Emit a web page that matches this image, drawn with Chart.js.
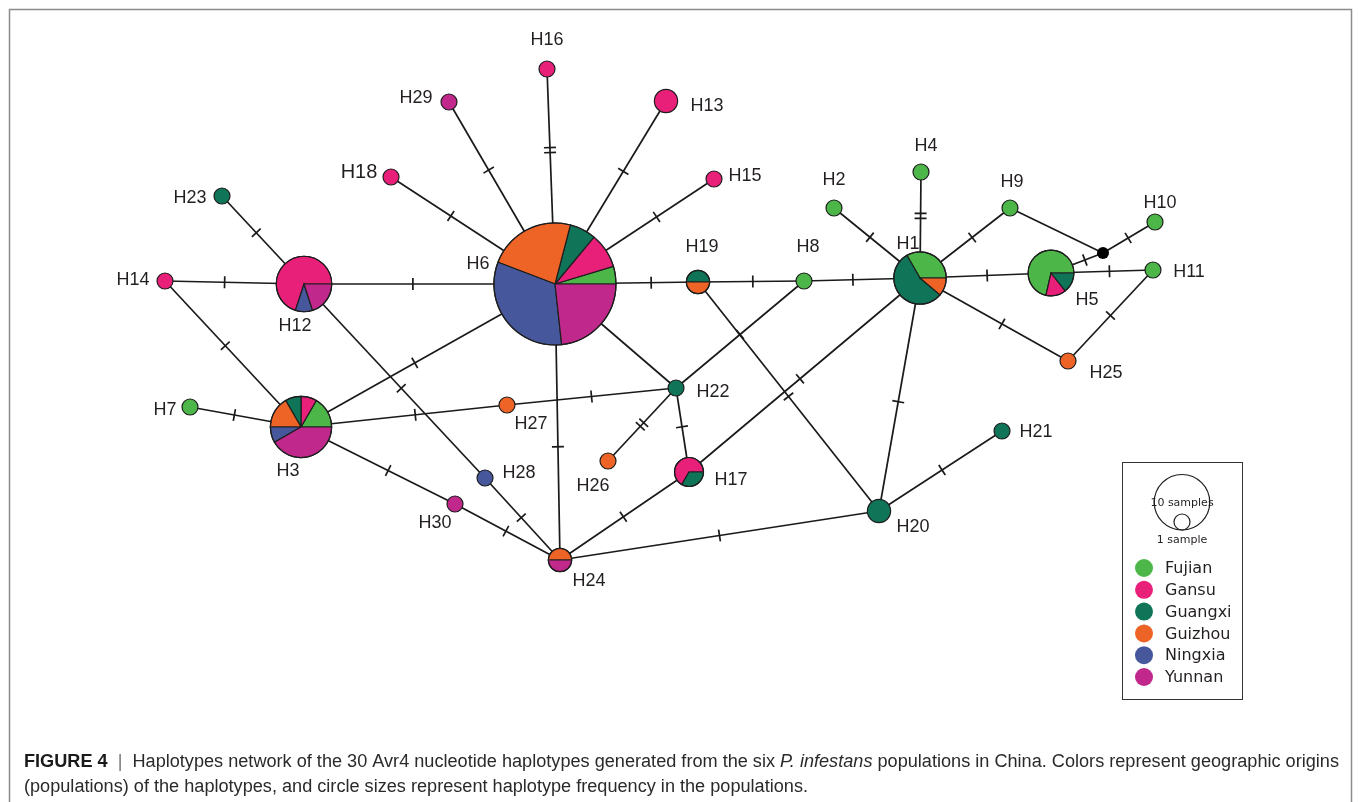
<!DOCTYPE html>
<html>
<head>
<meta charset="utf-8">
<script src="https://cdn.jsdelivr.net/npm/chart.js@4.4.1/dist/chart.umd.min.js"></script>
<style>
  html, body { margin: 0; padding: 0; background: #fff; }
  canvas { display: block; }
</style>
</head>
<body>
<canvas id="network" width="1358" height="802"></canvas>
<script>
const populations = ['Fujian', 'Gansu', 'Guangxi', 'Guizhou', 'Ningxia', 'Yunnan'];
const popColors = ['#4cb748', '#e8207a', '#107458', '#ee6426', '#46579c', '#c0288b'];

// haplotype nodes (mv = median vector)
const haplotypes = ['H1','H2','H3','H4','H5','H6','H7','H8','H9','H10',
                    'H11','H12','H13','H14','H15','H16','H17','H18','H19','H20',
                    'H21','H22','H23','H24','H25','H26','H27','H28','H29','H30','mv'];
const hapX = [920, 834, 301, 921, 1051, 555, 190, 804, 1010, 1155,
              1153, 304, 666, 165, 714, 547, 689, 391, 698, 879,
              1002, 676, 222, 560, 1068, 608, 507, 485, 449, 455, 1103];
const hapY = [278, 208, 427, 172, 273, 284, 407, 281, 208, 222,
              270, 284, 101, 281, 179, 69, 472, 177, 282, 511,
              431, 388, 196, 560, 361, 461, 405, 478, 102, 504, 253];

// samples per population, same order as populations
const hapCounts = [
  [3,0,5,1,0,0], [1,0,0,0,0,0], [2,1,1,2,1,5], [1,0,0,0,0,0], [5,1,1,0,0,0],
  [2,4,3,10,14,10], [1,0,0,0,0,0], [1,0,0,0,0,0], [1,0,0,0,0,0], [1,0,0,0,0,0],
  [1,0,0,0,0,0], [0,7,0,0,1,2], [0,2,0,0,0,0], [0,1,0,0,0,0], [0,1,0,0,0,0],
  [0,1,0,0,0,0], [0,2,1,0,0,0], [0,1,0,0,0,0], [0,0,1,1,0,0], [0,0,2,0,0,0],
  [0,0,1,0,0,0], [0,0,1,0,0,0], [0,0,1,0,0,0], [0,0,0,1,0,1], [0,0,0,1,0,0],
  [0,0,0,1,0,0], [0,0,0,1,0,0], [0,0,0,0,1,0], [0,0,0,0,0,1], [0,0,0,0,0,1],
  [0,0,0,0,0,0]
];

// links: [from, to, mutation steps]
const edges = [
  ['H6','H16',2], ['H6','H29',1], ['H6','H13',1], ['H6','H15',1], ['H6','H18',1],
  ['H6','H19',1], ['H6','H12',1], ['H6','H3',1], ['H6','H24',1], ['H6','H22',0],
  ['H12','H23',1], ['H12','H14',1], ['H12','H28',1], ['H14','H3',1], ['H3','H7',1],
  ['H3','H27',1], ['H27','H22',1], ['H3','H30',1], ['H30','H24',1], ['H28','H24',1],
  ['H22','H26',2], ['H22','H17',1], ['H22','H8',1], ['H17','H24',1], ['H17','H1',1],
  ['H24','H20',1], ['H19','H20',1], ['H19','H8',1], ['H8','H1',1], ['H1','H2',1],
  ['H1','H4',2], ['H1','H9',1], ['H1','H5',1], ['H1','H25',1], ['H1','H20',1],
  ['H20','H21',1], ['H5','mv',1], ['H9','mv',0], ['mv','H10',1], ['H5','H11',1],
  ['H11','H25',1]
];

// label placement relative to node centre
const labelOffset = [
  [-12,-34], [0,-28], [-13,44], [5,-26], [36,27], [-77,-20], [-25,3], [4,-34], [2,-26], [5,-19],
  [36,2], [-9,42], [41,5], [-32,-1], [31,-3], [0,-29], [42,8], [-32,-5], [4,-35], [34,16],
  [34,1], [37,4], [-32,2], [29,21], [38,12], [-15,25], [24,19], [34,-5], [-33,-4], [-20,19], [0,0]
];

const idx = name => haplotypes.indexOf(name);
const sampleTotal = i => hapCounts[i].reduce((a, b) => a + b, 0);
const nodeRadius = n => n === 0 ? 6 : 8 * Math.pow(n, 0.54);

const edgeSets = edges.map(e => ({
  type: 'line',
  data: [{x: hapX[idx(e[0])], y: hapY[idx(e[0])]}, {x: hapX[idx(e[1])], y: hapY[idx(e[1])]}],
  borderColor: '#1a1a1a',
  borderWidth: 1.7,
  pointRadius: 0,
  fill: false
}));

function drawPie(ctx, cx, cy, r, counts) {
  const total = counts.reduce((a, b) => a + b, 0);
  ctx.strokeStyle = '#1e1e1e';
  ctx.lineWidth = 1.2;
  if (total === 0) {
    ctx.beginPath(); ctx.arc(cx, cy, r, 0, 2 * Math.PI);
    ctx.fillStyle = '#000'; ctx.fill();
    return;
  }
  let a0 = 0;
  counts.forEach((c, i) => {
    if (!c) return;
    const a1 = a0 - c / total * 2 * Math.PI;
    ctx.beginPath();
    ctx.moveTo(cx, cy);
    ctx.arc(cx, cy, r, a0, a1, true);
    ctx.closePath();
    ctx.fillStyle = popColors[i];
    ctx.fill();
    if (c < total) ctx.stroke();
    a0 = a1;
  });
  ctx.beginPath(); ctx.arc(cx, cy, r, 0, 2 * Math.PI); ctx.stroke();
}

const networkPlugin = {
  id: 'network',
  afterDatasetsDraw(chart) {
    const ctx = chart.ctx;
    const xs = chart.scales.x, ys = chart.scales.y;
    const px = i => xs.getPixelForValue(hapX[i]);
    const py = i => ys.getPixelForValue(hapY[i]);
    ctx.save();

    // mutation hatch marks
    ctx.strokeStyle = '#1a1a1a';
    ctx.lineWidth = 1.7;
    edges.forEach(e => {
      const a = idx(e[0]), b = idx(e[1]);
      if (!e[2]) return;
      const dx = px(b) - px(a), dy = py(b) - py(a);
      const len = Math.hypot(dx, dy), ux = dx / len, uy = dy / len;
      const ra = nodeRadius(sampleTotal(a)), rb = nodeRadius(sampleTotal(b));
      const mx = px(a) + ux * (ra + (len - ra - rb) / 2);
      const my = py(a) + uy * (ra + (len - ra - rb) / 2);
      for (let k = 0; k < e[2]; k++) {
        const off = (k - (e[2] - 1) / 2) * 5;
        const cx = mx + ux * off, cy = my + uy * off;
        ctx.beginPath();
        ctx.moveTo(cx - uy * 6, cy + ux * 6);
        ctx.lineTo(cx + uy * 6, cy - ux * 6);
        ctx.stroke();
      }
    });

    // haplotype circles
    haplotypes.forEach((h, i) => {
      drawPie(ctx, px(i), py(i), nodeRadius(sampleTotal(i)), hapCounts[i]);
    });

    // node labels
    ctx.fillStyle = '#231f20';
    ctx.textAlign = 'center';
    ctx.textBaseline = 'middle';
    haplotypes.forEach((h, i) => {
      if (h === 'mv') return;
      ctx.font = (h === 'H18' ? '20px' : '18px') + ' "Liberation Sans", Arial, sans-serif';
      ctx.fillText(h, px(i) + labelOffset[i][0], py(i) + labelOffset[i][1]);
    });

    // legend box
    ctx.strokeStyle = '#333';
    ctx.lineWidth = 1;
    ctx.strokeRect(1122.5, 462.5, 120, 237);
    ctx.lineWidth = 1.2;
    ctx.strokeStyle = '#1e1e1e';
    const big = nodeRadius(10), small = nodeRadius(1);
    ctx.beginPath(); ctx.arc(1182, 530 - big, big, 0, 2 * Math.PI); ctx.stroke();
    ctx.beginPath(); ctx.arc(1182, 530 - small, small, 0, 2 * Math.PI); ctx.stroke();
    ctx.fillStyle = '#231f20';
    ctx.font = '11px "DejaVu Sans", sans-serif';
    ctx.fillText('10 samples', 1182, 503);
    ctx.fillText('1 sample', 1182, 540);
    ctx.textAlign = 'left';
    ctx.font = '16px "DejaVu Sans", sans-serif';
    populations.forEach((p, i) => {
      const y = 568 + i * 21.8;
      ctx.beginPath(); ctx.arc(1144, y, 9, 0, 2 * Math.PI);
      ctx.fillStyle = popColors[i]; ctx.fill();
      ctx.fillStyle = '#231f20';
      ctx.fillText(p, 1165, y + 1);
    });

    // outer frame
    ctx.strokeStyle = '#8c8c8c';
    ctx.lineWidth = 1.5;
    ctx.beginPath();
    ctx.moveTo(9.5, 802); ctx.lineTo(9.5, 9.5); ctx.lineTo(1351.5, 9.5); ctx.lineTo(1351.5, 802);
    ctx.stroke();

    // caption, squeezed to the frame width
    const fam = '"Liberation Sans Narrow", "Liberation Sans", Arial, sans-serif';
    const line1 = [
      ['bold 18px ' + fam, 'FIGURE 4', '#1a1a1a'],
      ['18px ' + fam, '  |  ', '#777'],
      ['18px ' + fam, 'Haplotypes network of the 30 Avr4 nucleotide haplotypes generated from the six ', '#2a2a2a'],
      ['italic 18px ' + fam, 'P. infestans', '#2a2a2a'],
      ['18px ' + fam, ' populations in China. Colors represent geographic origins', '#2a2a2a']
    ];
    const line2 = [
      ['18px ' + fam, '(populations) of the haplotypes, and circle sizes represent haplotype frequency in the populations.', '#2a2a2a']
    ];
    const widthOf = segs => segs.reduce((w, s) => { ctx.font = s[0]; return w + ctx.measureText(s[1]).width; }, 0);
    const sx = (1339 - 24) / widthOf(line1);
    ctx.textBaseline = 'alphabetic';
    [[line1, 767], [line2, 792]].forEach(([segs, y]) => {
      ctx.save();
      ctx.translate(24, y);
      ctx.scale(sx, 1);
      let x = 0;
      segs.forEach(s => {
        ctx.font = s[0];
        ctx.fillStyle = s[2];
        ctx.fillText(s[1], x, 0);
        x += ctx.measureText(s[1]).width;
      });
      ctx.restore();
    });

    ctx.restore();
  }
};

new Chart(document.getElementById('network'), {
  type: 'scatter',
  data: { datasets: edgeSets },
  options: {
    responsive: false,
    animation: false,
    devicePixelRatio: 1,
    layout: { padding: 0 },
    plugins: { legend: { display: false }, tooltip: { enabled: false } },
    scales: {
      x: { type: 'linear', min: 0, max: 1358, display: false },
      y: { type: 'linear', min: 0, max: 802, reverse: true, display: false }
    }
  },
  plugins: [networkPlugin]
});
</script>
</body>
</html>
